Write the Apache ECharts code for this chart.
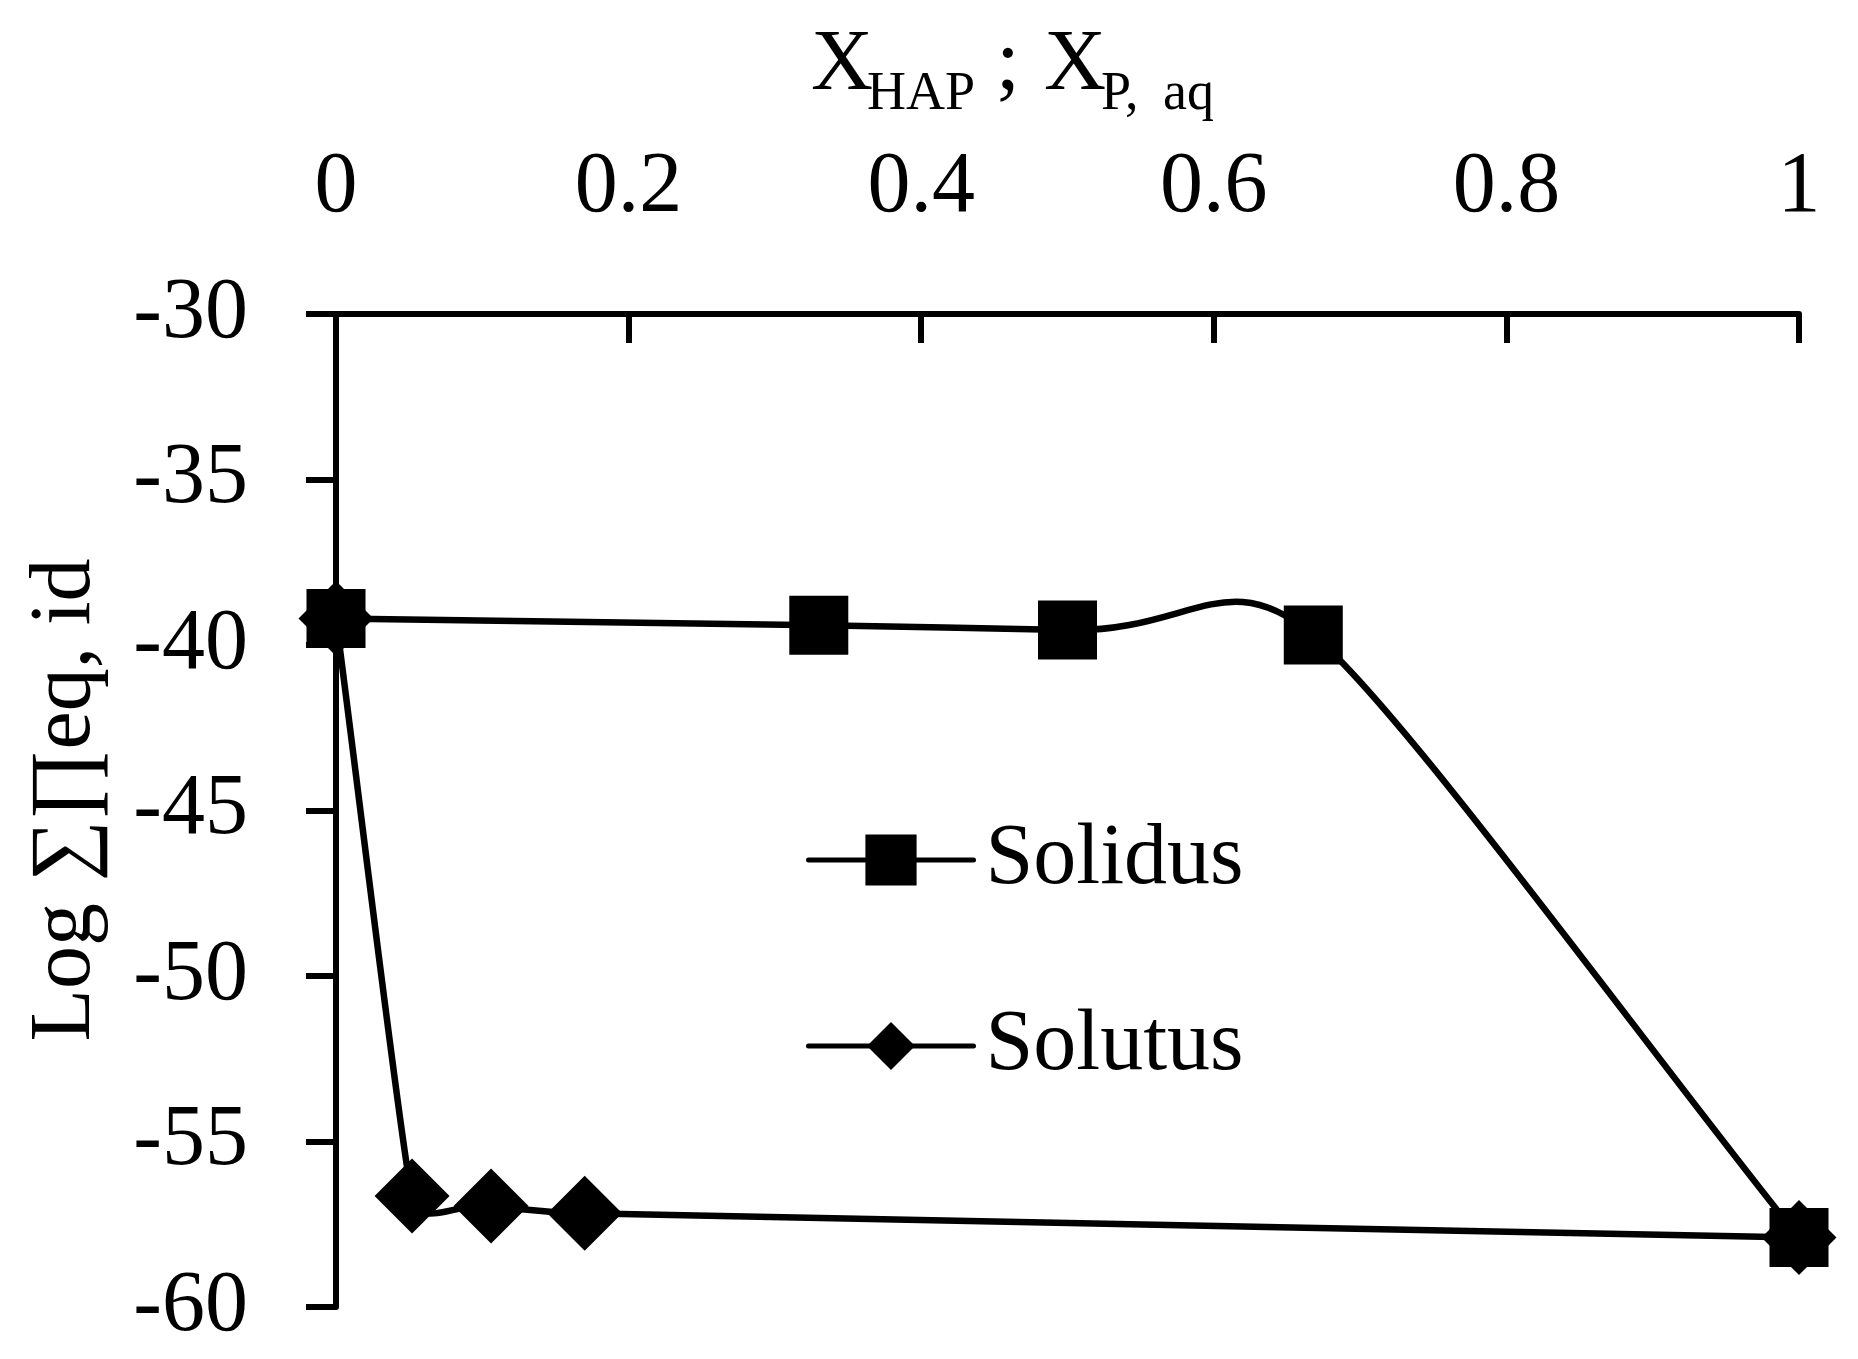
<!DOCTYPE html>
<html>
<head>
<meta charset="utf-8">
<script src="https://cdn.jsdelivr.net/npm/echarts@6/dist/echarts.min.js"></script>
<style>
  html, body { margin: 0; background: #fff; }
  #chart { width: 1858px; height: 1359px; }
</style>
</head>
<body>
<div id="chart"></div>
<script>
// data
const seriesNames = ["Solidus", "Solutus"];
const solidusX = [0, 0.33, 0.5, 0.668, 1];
const solidusY = [-39.2, -39.4, -39.55, -39.7, -57.9];
const solutusX = [0, 0.052, 0.106, 0.17, 1];
const solutusY = [-39.2, -56.65, -56.95, -57.17, -57.9];
const xTicks = [0, 0.2, 0.4, 0.6, 0.8, 1];
const yTicks = [-60, -55, -50, -45, -40, -35, -30];

const FONT = '"Liberation Serif", "Times New Roman", serif';
const INK = "#000";

const chart = echarts.init(document.getElementById("chart"));

const toPairs = (xs, ys) => xs.map((x, i) => [x, ys[i]]);
const dist = (a, b) => Math.hypot(a[0] - b[0], a[1] - b[1]);

// spreadsheet-style smoothing: tangent along prev->next, length set by the shorter neighbour
const S = 0.5;
const END = 0.3;
const handle = (p, i) => {
  const prev = p[i - 1], next = p[i + 1];
  const a = dist(p[i], prev), b = dist(p[i], next);
  const r = (Math.min(a, b) / (a + b)) * S;
  return [(next[0] - prev[0]) * r, (next[1] - prev[1]) * r];
};
const cpOut = (p, i) => {
  if (i === 0) {
    return [p[0][0] + (p[1][0] - p[0][0]) * END, p[0][1] + (p[1][1] - p[0][1]) * END];
  }
  const h = handle(p, i);
  return [p[i][0] + h[0], p[i][1] + h[1]];
};
const cpIn = (p, i) => {
  const n = p.length - 1;
  if (i === n) {
    return [p[n][0] - (p[n][0] - p[n - 1][0]) * END, p[n][1] - (p[n][1] - p[n - 1][1]) * END];
  }
  const h = handle(p, i);
  return [p[i][0] - h[0], p[i][1] - h[1]];
};

const curve = (name, xs, ys) => ({
  type: "custom",
  name: name + "-curve",
  data: toPairs(xs, ys),
  encode: { x: 0, y: 1 },
  z: 1,
  silent: true,
  clip: false,
  renderItem: (params, api) => {
    const i = params.dataIndex;
    if (i >= xs.length - 1) return null;
    const p = xs.map((x, k) => api.coord([x, ys[k]]));
    const c1 = cpOut(p, i);
    const c2 = cpIn(p, i + 1);
    return {
      type: "bezierCurve",
      shape: {
        x1: p[i][0], y1: p[i][1],
        x2: p[i + 1][0], y2: p[i + 1][1],
        cpx1: c1[0], cpy1: c1[1],
        cpx2: c2[0], cpy2: c2[1],
      },
      style: { stroke: INK, lineWidth: 6.5, fill: null, lineCap: "round" },
    };
  },
});

const markers = (name, xs, ys, symbol, size) => ({
  type: "line",
  name,
  data: toPairs(xs, ys),
  symbol,
  symbolSize: size,
  showSymbol: true,
  lineStyle: { opacity: 0 },
  itemStyle: { color: INK },
  z: 3,
  silent: true,
});

const legendBase = {
  left: 806,
  padding: 0,
  orient: "vertical",
  itemWidth: 165,
  selectedMode: false,
  textStyle: { fontFamily: FONT, fontSize: 86, color: INK, padding: [0, 0, 0, 7] },
  lineStyle: { color: INK, width: 5, opacity: 1, cap: "round" },
};

const axisLabel = { fontFamily: FONT, fontSize: 86, color: INK };

const txt = (text, x, y, size) => ({
  type: "text", x, y,
  style: { text, font: `${size}px ${FONT}`, fill: INK, verticalAlign: "middle" },
});

const option = {
  animation: false,
  backgroundColor: "#fff",
  grid: { left: 336, right: 59, top: 314, bottom: 52, outerBoundsMode: "none" },
  xAxis: {
    type: "value",
    position: "top",
    min: xTicks[0],
    max: xTicks[xTicks.length - 1],
    interval: 0.2,
    axisLine: { onZero: false, lineStyle: { color: INK, width: 6 } },
    axisTick: { inside: true, length: 29, lineStyle: { color: INK, width: 6 } },
    axisLabel: { ...axisLabel, margin: 83 },
    splitLine: { show: false },
  },
  yAxis: {
    type: "value",
    min: yTicks[0],
    max: yTicks[yTicks.length - 1],
    interval: 5,
    axisLine: { show: true, onZero: false, lineStyle: { color: INK, width: 6 } },
    axisTick: { show: true, length: 30, lineStyle: { color: INK, width: 6 } },
    axisLabel: { ...axisLabel, margin: 88 },
    splitLine: { show: false },
  },
  legend: [
    { ...legendBase, data: [seriesNames[0]], top: 817, itemHeight: 64 },
    { ...legendBase, data: [seriesNames[1]], top: 1003, itemHeight: 60 },
  ],
  graphic: [
    // top axis title: X_HAP ; X_P, aq
    txt("X", 811, 66, 86),
    txt("HAP", 867, 95, 54),
    txt(";", 996, 66, 86),
    txt("X", 1044, 66, 86),
    txt("P,", 1101, 95, 54),
    txt("aq", 1163, 95, 54),
    {
      type: "text", x: 66, y: 800, rotation: Math.PI / 2,
      style: { text: "Log ∑∏eq, id", font: `86px ${FONT}`, fill: INK, align: "center", verticalAlign: "middle" },
    },
  ],
  series: [
    curve(seriesNames[0], solidusX, solidusY),
    curve(seriesNames[1], solutusX, solutusY),
    markers(seriesNames[0], solidusX, solidusY, "rect", 59),
    markers(seriesNames[1], solutusX, solutusY, "diamond", 75),
  ],
};

chart.setOption(option);
</script>
</body>
</html>
